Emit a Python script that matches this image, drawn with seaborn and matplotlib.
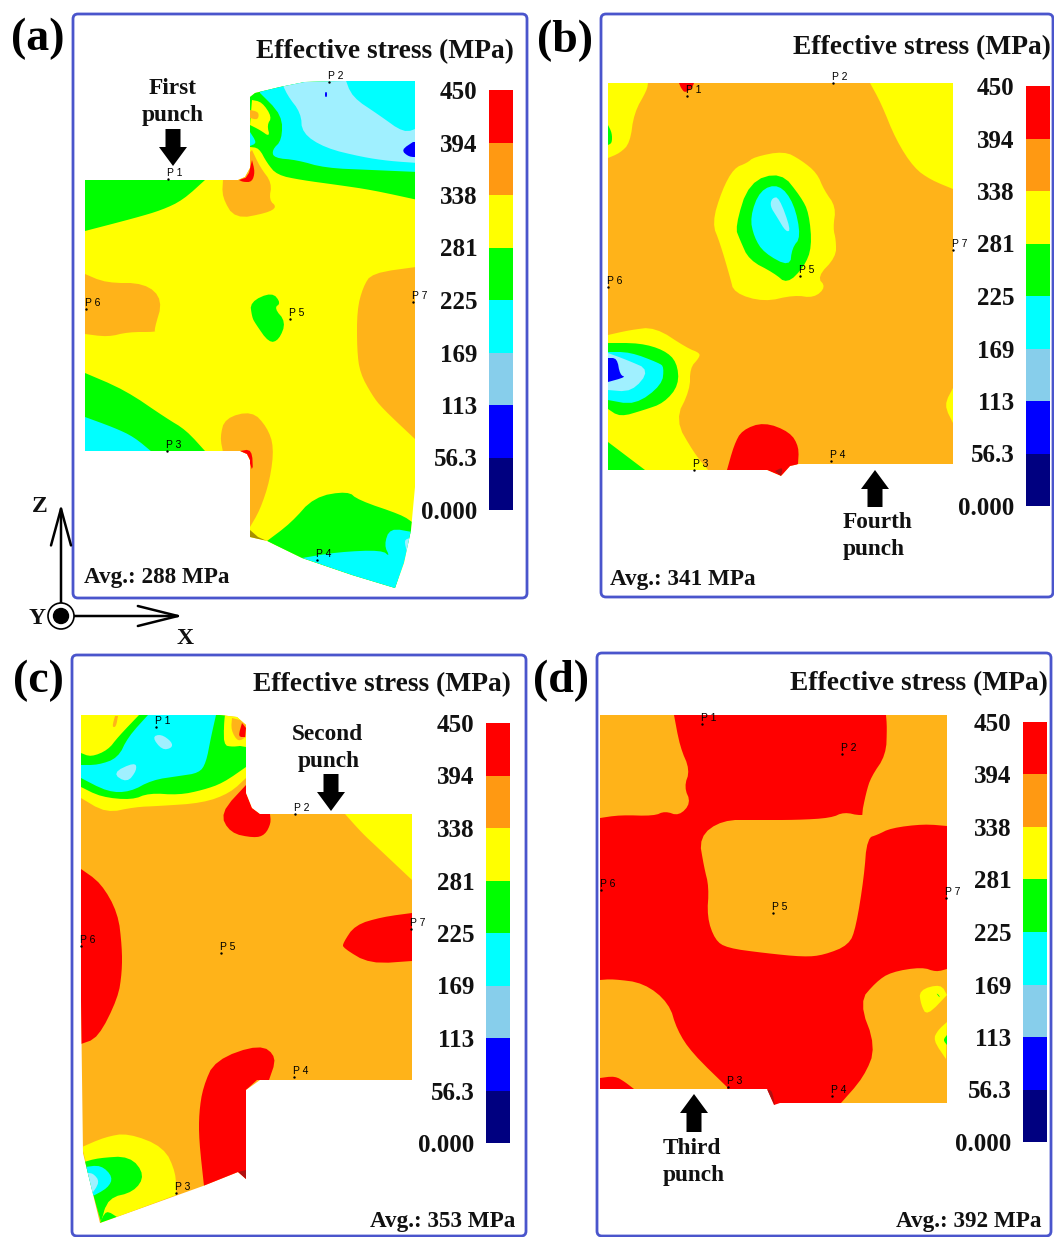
import matplotlib
matplotlib.use('Agg')
import numpy as np
import matplotlib.pyplot as plt
from matplotlib.colors import ListedColormap
from matplotlib.patches import Polygon, FancyBboxPatch, FancyArrow, Circle
from matplotlib.path import Path
import seaborn as sns

sns.set_theme(style='white')
plt.rcParams['font.family'] = ['Liberation Serif', 'DejaVu Serif']

# escala de la barra, de arriba a abajo
stress_ticks = ['450', '394', '338', '281', '225', '169', '113', '56.3', '0.000']
bar_colors = ['#FF0000', '#FF9912', '#FFFF00', '#00FF00', '#00FFFF', '#87CEEB', '#0000FF', '#000080']

# colores de las bandas sobre la pieza
band = {'red': '#FF0000', 'org': '#FFB319', 'yel': '#FFFF00', 'grn': '#00FF00', 'cya': '#00FFFF',
        'lig': '#A0F0FF', 'blu': '#0000FF', 'dkr': '#B01010', 'olv': '#A89000'}

# ---------- (a) ----------
a_outline = [(85, 180), (238, 180), (245, 177), (250, 168), (250, 97), (255, 93), (280, 87), (305, 82), (345, 81),
             (415, 81), (415, 487), (411, 530), (404, 563), (395, 588), (352, 575), (302, 558), (267, 541),
             (250, 537), (250, 460), (247, 454), (240, 451), (85, 451)]
a_regions = [
    ('grn', [(250, 78), (418, 78), (418, 200), (372, 190), (338, 185), (301, 180), (277, 175), (267, 163), (259, 148), (250, 147)]),
    ('cya', [(258, 78), (260, 93), (282, 115), (282, 140), (272, 150), (274, 158), (297, 160), (325, 168), (372, 170), (418, 172), (418, 78)]),
    ('cya', [(250, 132), (257, 143), (250, 146)]),
    ('lig', [(280, 78), (345, 78), (352, 97), (379, 115), (404, 133), (418, 128), (418, 163), (389, 161), (362, 157), (325, 148), (302, 133), (301, 113), (287, 95)]),
    ('blu', [(401, 150), (413, 142), (418, 142), (418, 157), (409, 157)]),
    ('blu', [(325, 92), (327, 92), (327, 97), (325, 97)]),
    ('yel', [(252, 100), (262, 102), (272, 117), (267, 125), (270, 137), (260, 130), (250, 125)]),
    ('org', [(250, 110), (259, 112), (258, 120), (250, 118)]),
    ('grn', [(85, 180), (205, 180), (183, 200), (162, 210), (135, 218), (85, 231)]),
    ('org', [(223, 180), (252, 150), (260, 167), (272, 183), (269, 200), (277, 207), (267, 213), (235, 219), (222, 197)]),
    ('red', [(239, 180), (248, 177), (252, 160), (255, 172), (252, 182), (243, 182)]),
    ('org', [(85, 274), (106, 283), (145, 283), (163, 300), (154, 330), (156, 332), (128, 332), (108, 337), (85, 334)]),
    ('org', [(416, 267), (372, 273), (363, 287), (357, 310), (357, 350), (360, 373), (372, 395), (382, 408), (416, 440)]),
    ('grn', [(250, 302), (272, 292), (281, 303), (274, 308), (286, 322), (279, 340), (269, 343), (255, 323), (252, 317)]),
    ('grn', [(85, 373), (125, 390), (166, 418), (186, 430), (205, 451), (85, 452)]),
    ('cya', [(85, 417), (115, 428), (134, 437), (152, 452), (85, 452)]),
    ('org', [(225, 418), (252, 411), (267, 427), (274, 447), (270, 480), (260, 510), (250, 527), (250, 453), (223, 452), (220, 437)]),
    ('red', [(240, 451), (252, 449), (253, 473), (248, 457)]),
    ('grn', [(267, 541), (291, 523), (314, 497), (348, 491), (358, 500), (402, 515), (412, 522), (411, 533), (395, 590), (302, 560)]),
    ('cya', [(302, 558), (338, 552), (382, 550), (390, 557), (384, 545), (390, 528), (412, 532), (404, 563), (395, 590)]),
    ('lig', [(404, 540), (410, 538), (407, 552)]),
    ('olv', [(250, 530), (258, 537), (267, 541), (250, 538)]),
]
a_points = [('P 1', 167, 173), ('P 2', 328, 76), ('P 3', 166, 445), ('P 4', 316, 554), ('P 5', 289, 313), ('P 6', 85, 303), ('P 7', 412, 296)]

# ---------- (b) ----------
b_outline = [(608, 83), (953, 83), (953, 464), (799, 464), (790, 466), (781, 476), (767, 470), (608, 470)]
b_regions = [
    ('yel', [(608, 83), (648, 83), (647, 90), (634, 113), (630, 143), (620, 153), (608, 158)]),
    ('grn', [(608, 125), (612, 133), (612, 143), (608, 145)]),
    ('red', [(679, 83), (694, 83), (692, 88), (685, 93), (681, 88)]),
    ('yel', [(870, 83), (881, 103), (896, 140), (914, 168), (931, 180), (953, 189), (953, 83)]),
    ('yel', [(712, 223), (722, 190), (734, 168), (747, 163), (754, 157), (784, 151), (801, 160), (817, 173), (824, 190), (836, 207), (833, 228), (836, 240), (836, 257), (817, 277), (826, 287), (814, 298), (794, 295), (764, 302), (734, 293), (730, 277), (720, 243)]),
    ('grn', [(735, 227), (749, 182), (781, 172), (801, 197), (809, 213), (812, 247), (804, 267), (787, 284), (774, 273), (749, 260), (740, 240)]),
    ('cya', [(750, 217), (760, 190), (779, 184), (794, 203), (801, 237), (792, 248), (790, 267), (764, 253), (754, 237)]),
    ('lig', [(770, 206), (772, 198), (779, 197), (791, 230), (786, 232), (777, 217)]),
    ('yel', [(608, 335), (630, 330), (655, 327), (687, 348), (700, 353), (699, 358), (690, 368), (690, 390), (675, 420), (694, 453), (708, 470), (608, 470)]),
    ('grn', [(608, 343), (640, 343), (664, 350), (677, 362), (679, 385), (664, 403), (644, 410), (620, 417), (608, 409)]),
    ('cya', [(608, 352), (630, 352), (659, 363), (664, 367), (662, 385), (635, 405), (608, 400)]),
    ('lig', [(608, 353), (627, 360), (650, 370), (632, 392), (608, 390)]),
    ('blu', [(608, 358), (617, 358), (620, 375), (626, 377), (608, 382)]),
    ('grn', [(608, 442), (645, 470), (608, 470)]),
    ('red', [(727, 470), (734, 445), (742, 430), (764, 422), (790, 432), (799, 447), (798, 464), (781, 476), (767, 470)]),
    ('dkr', [(775, 471), (783, 467), (781, 476)]),
    ('yel', [(953, 388), (944, 405), (953, 423)]),
]
b_points = [('P 1', 686, 90), ('P 2', 832, 77), ('P 3', 693, 464), ('P 4', 830, 455), ('P 5', 799, 270), ('P 6', 607, 281), ('P 7', 952, 244)]

# ---------- (c) ----------
c_outline = [(81, 715), (220, 715), (237, 717), (246, 725), (246, 793), (252, 808), (260, 814), (412, 814), (412, 1080),
             (260, 1080), (246, 1090), (246, 1179), (238, 1172), (203, 1186), (100, 1223), (83, 1153), (81, 1000)]
c_regions = [
    ('yel', [(81, 715), (246, 715), (246, 778), (230, 793), (203, 803), (159, 806), (135, 807), (106, 813), (81, 798)]),
    ('grn', [(139, 715), (225, 715), (223, 743), (246, 747), (246, 767), (223, 783), (203, 790), (179, 795), (149, 793), (132, 800), (101, 797), (81, 787), (81, 753), (91, 757), (108, 750), (118, 737)]),
    ('cya', [(148, 715), (216, 715), (211, 737), (206, 763), (199, 773), (179, 776), (152, 780), (130, 792), (108, 792), (81, 778), (81, 765), (98, 765), (118, 758), (128, 737)]),
    ('lig', [(152, 737), (161, 734), (172, 742), (172, 748), (162, 750)]),
    ('lig', [(112, 773), (135, 762), (137, 770), (127, 783)]),
    ('yel', [(225, 715), (246, 725), (246, 745), (233, 747), (223, 745)]),
    ('org', [(232, 718), (240, 720), (246, 725), (246, 737), (238, 742), (231, 730)]),
    ('red', [(242, 723), (246, 728), (245, 737), (238, 737)]),
    ('org', [(112, 727), (115, 716), (118, 716), (116, 727)]),
    ('red', [(246, 785), (220, 813), (230, 833), (254, 838), (265, 835), (271, 823), (270, 814), (260, 814), (252, 808), (246, 793)]),
    ('yel', [(345, 814), (412, 814), (412, 880), (377, 847), (362, 833)]),
    ('red', [(81, 869), (101, 883), (118, 913), (122, 947), (122, 972), (118, 998), (98, 1038), (81, 1044)]),
    ('red', [(412, 913), (382, 917), (355, 925), (343, 943), (343, 948), (370, 964), (412, 961)]),
    ('red', [(215, 1060), (260, 1044), (277, 1057), (269, 1080), (257, 1080), (246, 1090), (246, 1179), (204, 1186), (199, 1140), (199, 1113), (203, 1087)]),
    ('dkr', [(238, 1172), (246, 1170), (246, 1179)]),
    ('yel', [(82, 1147), (105, 1137), (128, 1133), (164, 1147), (176, 1173), (176, 1195), (101, 1223)]),
    ('grn', [(84, 1162), (98, 1158), (130, 1156), (145, 1175), (134, 1192), (108, 1198), (101, 1222)]),
    ('yel', [(103, 1218), (106, 1205), (108, 1212)]),
    ('grn', [(106, 1210), (117, 1217), (100, 1223)]),
    ('cya', [(85, 1167), (101, 1165), (113, 1177), (108, 1188), (91, 1197)]),
    ('lig', [(85, 1173), (93, 1173), (100, 1182), (91, 1195)]),
]
c_points = [('P 1', 155, 721), ('P 2', 294, 808), ('P 3', 175, 1187), ('P 4', 293, 1071), ('P 5', 220, 947), ('P 6', 80, 940), ('P 7', 410, 923)]

# ---------- (d) ----------
d_outline = [(600, 715), (947, 715), (947, 1103), (780, 1103), (774, 1105), (767, 1089), (600, 1089)]
d_regions = [
    ('org', [(600, 715), (674, 715), (680, 747), (690, 770), (684, 787), (691, 803), (679, 816), (665, 811), (654, 816), (620, 815), (600, 818)]),
    ('org', [(886, 715), (947, 715), (947, 826), (924, 824), (891, 828), (877, 835), (867, 838), (861, 818), (866, 793), (871, 777), (886, 755), (887, 727)]),
    ('org', [(699, 837), (722, 820), (757, 820), (797, 820), (831, 818), (844, 812), (861, 816), (880, 812), (880, 832), (867, 838), (864, 877), (856, 927), (849, 945), (824, 955), (804, 957), (764, 953), (727, 948), (715, 940), (707, 917), (709, 887), (704, 867)]),
    ('org', [(600, 980), (613, 979), (644, 983), (669, 1003), (677, 1030), (692, 1053), (727, 1087), (727, 1090), (634, 1089), (625, 1082), (615, 1076), (600, 1078)]),
    ('org', [(947, 969), (936, 972), (922, 967), (891, 972), (876, 982), (859, 1002), (876, 1047), (864, 1077), (841, 1103), (947, 1103)]),
    ('yel', [(919, 990), (941, 984), (947, 995), (927, 1016), (921, 1005)]),
    ('grn', [(936, 993), (939, 995), (940, 998)]),
    ('yel', [(947, 1022), (938, 1030), (933, 1040), (946, 1059)]),
    ('grn', [(947, 1035), (943, 1040), (947, 1045)]),
    ('dkr', [(767, 1090), (772, 1090), (775, 1106)]),
]
d_points = [('P 1', 701, 718), ('P 2', 841, 748), ('P 3', 727, 1081), ('P 4', 831, 1090), ('P 5', 772, 907), ('P 6', 600, 884), ('P 7', 945, 892)]

# recuadro: izquierda, arriba, derecha, abajo / barra: izquierda, derecha, arriba, abajo
boxes = {'a': (73, 14, 527, 598), 'b': (601, 14, 1053, 597), 'c': (72, 655, 526, 1236), 'd': (597, 653, 1051, 1236)}
bars = {'a': (489, 513, 90, 510), 'b': (1026, 1050, 86, 506), 'c': (486, 510, 723, 1143), 'd': (1023, 1047, 722, 1142)}
title_pos = {'a': (256, 52), 'b': (793, 48), 'c': (253, 685), 'd': (790, 684)}
avg_text = {'a': ('Avg.: 288 MPa', 84, 578), 'b': ('Avg.: 341 MPa', 610, 580), 'c': ('Avg.: 353 MPa', 370, 1221), 'd': ('Avg.: 392 MPa', 896, 1221)}
panel_pos = {'a': (11, 39), 'b': (537, 41), 'c': (13, 681), 'd': (533, 681)}
# texto del punzon y flecha (x, y_cola, y_punta)
punch_words = [('First', 173, 88), ('punch', 173, 115), ('Fourth', 877, 522), ('punch', 874, 549),
               ('Second', 327, 735), ('punch', 329, 762), ('Third', 692, 1149), ('punch', 694, 1175)]
punch_arrows = [(173, 129, 166), (875, 507, 470), (331, 774, 811), (694, 1132, 1094)]


def round_corners(pts, outline, passes=2):
    # redondea las bandas, los vertices pegados al borde de la pieza no se tocan
    path = Path(outline)
    for _ in range(passes):
        out = []
        n = len(pts)
        for i, p in enumerate(pts):
            p = np.array(p, float)
            if not path.contains_point(p, radius=0) or not (path.contains_point(p + (3, 0)) and path.contains_point(p - (3, 0))
                                                            and path.contains_point(p + (0, 3)) and path.contains_point(p - (0, 3))):
                out.append(tuple(p))
                continue
            prev_p = np.array(pts[i - 1], float)
            next_p = np.array(pts[(i + 1) % n], float)
            out.append(tuple(p + (prev_p - p) * 0.25))
            out.append(tuple(p + (next_p - p) * 0.25))
        pts = out
    return pts


W, H = 1054, 1237
fig = plt.figure(figsize=(W / 100, H / 100), dpi=100)
ax = fig.add_axes([0, 0, 1, 1])

panels = {'a': (a_outline, a_regions, a_points), 'b': (b_outline, b_regions, b_points),
          'c': (c_outline, c_regions, c_points), 'd': (d_outline, d_regions, d_points)}
base_color = {'a': 'yel', 'b': 'org', 'c': 'org', 'd': 'red'}

for key, (outline, regions, points) in panels.items():
    l, t, r, b = boxes[key]
    ax.add_patch(FancyBboxPatch((l + 4, t + 4), r - l - 8, b - t - 8, boxstyle='round,pad=4,rounding_size=5',
                                fc='white', ec='#4A55CC', lw=2, zorder=1))
    shape = Polygon(outline, closed=True, fc=band[base_color[key]], ec='none', zorder=2)
    ax.add_patch(shape)
    for name, pts in regions:
        p = Polygon(round_corners(pts, outline), closed=True, fc=band[name], ec='none', zorder=3)
        ax.add_patch(p)
        p.set_clip_path(shape)
    # puntos P1..P7
    sns.scatterplot(x=[p[1] + 1 for p in points], y=[p[2] + 6 for p in points], color='black', s=3,
                    linewidth=0, ax=ax, zorder=5, legend=False)
    for txt, x, y in points:
        ax.text(x, y, txt, fontsize=7.5, family='Liberation Sans', ha='left', va='center', color='black', zorder=6)

    ax.text(title_pos[key][0], title_pos[key][1], 'Effective stress (MPa)', fontsize=19.8, fontweight='bold',
            ha='left', va='center', color='#111111', zorder=6)
    ax.text(avg_text[key][1], avg_text[key][2], avg_text[key][0], fontsize=16.7, fontweight='bold',
            ha='left', va='center', color='#111111', zorder=6)
    ax.text(panel_pos[key][0], panel_pos[key][1], '(%s)' % key, fontsize=33, fontweight='bold',
            ha='left', va='center', color='black', zorder=6)

    # barra de colores
    x0, x1, y0, y1 = bars[key]
    cax = fig.add_axes([x0 / W, 1 - y1 / H, (x1 - x0) / W, (y1 - y0) / H])
    levels = np.arange(len(bar_colors)).reshape(-1, 1)
    sns.heatmap(levels, cmap=ListedColormap(bar_colors), cbar=False, xticklabels=False, yticklabels=False, ax=cax)
    cax.set_yticks(np.arange(len(stress_ticks)))
    cax.set_yticklabels(stress_ticks, fontsize=18, fontweight='bold', color='#111111', rotation=0)
    cax.tick_params(axis='y', length=0, pad=8.5)

for txt, x, y in punch_words:
    ax.text(x, y, txt, fontsize=16.8, fontweight='bold', ha='center', va='center', color='#111111', zorder=6)
for x, y_tail, y_tip in punch_arrows:
    ax.add_patch(FancyArrow(x, y_tail, 0, y_tip - y_tail, width=15, head_width=28, head_length=19,
                            length_includes_head=True, fc='black', ec='none', zorder=6))

# ejes del modelo
ax.annotate('', xy=(61, 504), xytext=(61, 616), arrowprops=dict(arrowstyle='->,head_length=2.2,head_width=0.6', color='black', lw=1.8, shrinkA=0, shrinkB=0), zorder=6)
ax.annotate('', xy=(183, 616), xytext=(61, 616), arrowprops=dict(arrowstyle='->,head_length=2.4,head_width=0.6', color='black', lw=1.8, shrinkA=0, shrinkB=0), zorder=6)
ax.add_patch(Circle((61, 616), 13, fc='white', ec='black', lw=1.2, zorder=7))
ax.add_patch(Circle((61, 616), 7.5, fc='black', ec='black', zorder=8))
for txt, x, y in [('Z', 40, 506), ('Y', 37, 619), ('X', 185, 639)]:
    ax.text(x, y, txt, fontsize=17, fontweight='bold', ha='center', va='center', color='#111111', zorder=6)

ax.set_xlim(0, W)
ax.set_ylim(H, 0)
ax.axis('off')

plt.savefig('out.png', dpi=100)
